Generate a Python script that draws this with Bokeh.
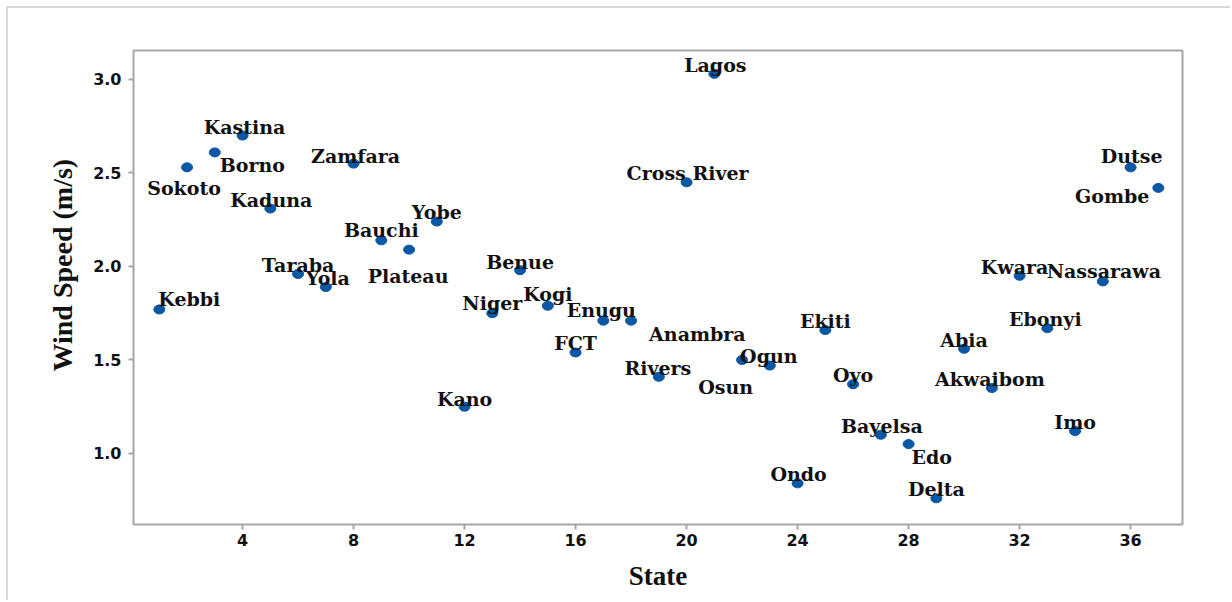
from bokeh.plotting import figure
from bokeh.models import ColumnDataSource, FixedTicker, NumeralTickFormatter, Title
from bokeh.core.properties import value
from bokeh.embed import file_html
from bokeh.resources import INLINE

# ---- data ----
states = ["Kebbi", "Sokoto", "Borno", "Kastina", "Kaduna", "Taraba", "Yola",
          "Zamfara", "Bauchi", "Plateau", "Yobe", "Kano", "Niger", "Benue",
          "Kogi", "FCT", "Enugu", "Anambra", "Rivers", "Cross River", "Lagos",
          "Osun", "Ogun", "Ondo", "Ekiti", "Oyo", "Bayelsa", "Edo", "Delta",
          "Abia", "Akwaibom", "Kwara", "Ebonyi", "Imo", "Nassarawa", "Dutse",
          "Gombe"]
state_index = list(range(1, 38))
wind_speed = [1.77, 2.53, 2.61, 2.70, 2.31, 1.96, 1.89, 2.55, 2.14, 2.09,
              2.24, 1.25, 1.75, 1.98, 1.79, 1.54, 1.71, 1.71, 1.41, 2.45,
              3.03, 1.50, 1.47, 0.84, 1.66, 1.37, 1.10, 1.05, 0.76, 1.56,
              1.35, 1.95, 1.67, 1.12, 1.92, 2.53, 2.42]
x_ticks = [4, 8, 12, 16, 20, 24, 28, 32, 36]
y_ticks = [1.0, 1.5, 2.0, 2.5, 3.0]
x_title = "State"
y_title = "Wind Speed (m/s)"

# ---- label placement (style: alignment and pixel offsets) ----
label_align = ["left", "center", "left", "center", "center", "center", "center",
               "center", "center", "center", "center", "center", "center", "center",
               "center", "center", "center", "left", "center", "center", "center",
               "right", "center", "center", "center", "center", "center", "left",
               "center", "center", "center", "center", "center", "center", "center",
               "center", "right"]
label_dx = [-1, -3, 5, 2, 1, 0, 2, 2, 0, -1, 0, 0, 0, 0, 0, 0, -2, 18, -1, 1, 1,
            11, -1, 1, 0, 0, 1, 3, 0, 0, -2, -5, -2, 0, 1, 1, -9]
label_dy = [-10, 21, 13, -9, -9, -9, -9, -8, -10, 26, -10, -8, -10, -8, -12, -9,
            -11, 13, -9, -9, -9, 27, -10, -9, -9, -9, -9, 13, -9, -9, -9, -9,
            -9, -9, -10, -11, 8]

GRAY = "#a6a6a6"
BLUE = "#0a57a6"

p = figure(width=1224, height=594, output_backend="svg", toolbar_location=None,
           x_range=(0.07, 37.87), y_range=(0.62, 3.155),
           min_border_left=125, min_border_right=50, min_border_top=42,
           min_border_bottom=78)
p.styles = {"margin-left": "6px", "margin-top": "6px",
            "border-top": "2px solid #d9d9d9", "border-left": "2px solid #d9d9d9"}
p.xgrid.visible = False
p.ygrid.visible = False
p.outline_line_color = GRAY
p.outline_line_width = 2
p.background_fill_color = "white"
p.border_fill_color = "white"

src = ColumnDataSource(dict(x=state_index, y=wind_speed, name=states))
p.ellipse(x="x", y="y", width=11, height=9, width_units="screen",
          height_units="screen", source=src, fill_color=BLUE, line_color=BLUE)

for align in ["left", "center", "right"]:
    idx = [i for i, a in enumerate(label_align) if a == align]
    s = ColumnDataSource(dict(
        x=[state_index[i] for i in idx],
        y=[wind_speed[i] for i in idx],
        name=[states[i] for i in idx],
        dx=[label_dx[i] for i in idx],
        dy=[label_dy[i] for i in idx],
    ))
    p.text(x="x", y="y", text="name", x_offset="dx", y_offset="dy", source=s,
           text_align=align, text_baseline="alphabetic",
           text_font=value("DejaVu Serif"), text_font_style="bold",
           text_font_size="19px", text_color="#111111")

for ax in (p.xaxis[0], p.yaxis[0]):
    ax.axis_line_color = None
    ax.major_tick_line_color = GRAY
    ax.major_tick_line_width = 2
    ax.major_tick_out = 5
    ax.major_tick_in = 0
    ax.minor_tick_line_color = None
    ax.major_label_text_font = "DejaVu Sans"
    ax.major_label_text_font_style = "bold"
    ax.major_label_text_font_size = "16px"
    ax.major_label_text_color = "#111111"
    ax.axis_label_text_font = "Liberation Serif"
    ax.axis_label_text_font_style = "bold"
    ax.axis_label_text_color = "#111111"

p.xaxis.ticker = FixedTicker(ticks=x_ticks)
p.yaxis.ticker = FixedTicker(ticks=y_ticks)
p.yaxis.formatter = NumeralTickFormatter(format="0.0")
p.xaxis.major_label_standoff = 4
p.yaxis.major_label_standoff = 7
p.xaxis.axis_label = x_title
p.xaxis.axis_label_text_font_size = "27px"
p.xaxis.axis_label_standoff = 12

yt = Title(text=y_title, align="left", offset=153, standoff=25,
           text_font="Liberation Serif", text_font_style="bold",
           text_font_size="28px", text_color="#111111")
p.add_layout(yt, "left")

open("out.html", "w").write(file_html(p, INLINE))
